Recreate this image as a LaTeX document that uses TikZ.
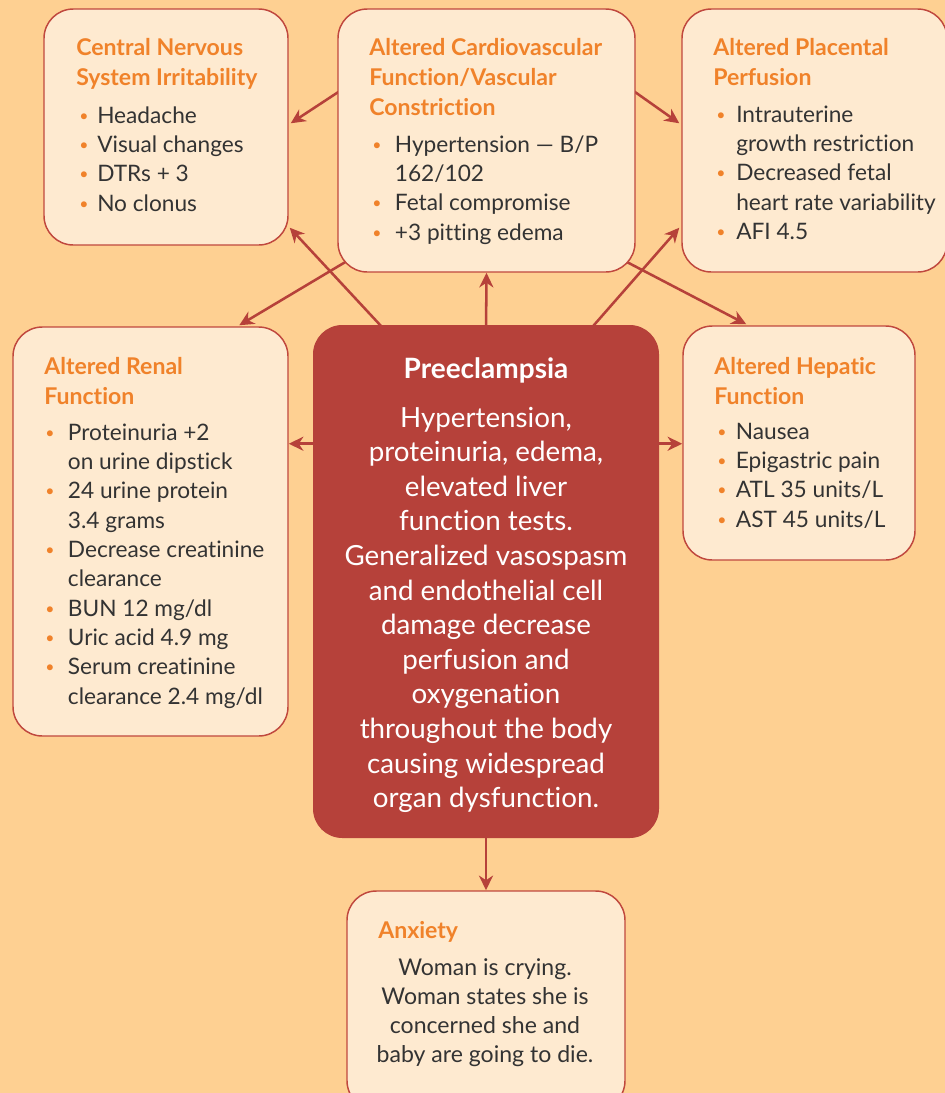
\documentclass[tikz,border=0pt]{standalone}
\usepackage{fontspec}
\setmainfont{Lato}[Ligatures={NoCommon}]
\usepackage{graphicx}
\usetikzlibrary{arrows.meta,fit,backgrounds,calc}
\definecolor{bgc}{HTML}{FED092}
\definecolor{boxf}{HTML}{FEEAD0}
\definecolor{bord}{HTML}{C0483E}
\definecolor{arrc}{HTML}{B6413A}
\definecolor{prec}{HTML}{B6413A}
\definecolor{horange}{HTML}{F0822A}
\definecolor{tgray}{HTML}{333333}
\newlength{\bulw}
\newcommand{\bi}{\makebox[\bulw][l]{\textcolor{horange}{\raisebox{1.5pt}{\scalebox{0.7}{•}}}}}
\newcommand{\ct}{\hspace*{\bulw}}
\begin{document}
\begin{tikzpicture}[x=0.75pt,y=-0.75pt,
  box/.style={draw=bord, line width=1.1pt, fill=boxf, rounded corners=22pt, inner sep=0pt},
  prebox/.style={fill=prec, rounded corners=22pt, inner sep=0pt},
  arr/.style={draw=arrc, line width=1.9pt, -{Stealth[length=11pt,width=10.5pt,inset=3.5pt]}},
  head/.style={anchor=base west, inner sep=0pt, text=horange, font=\bfseries\fontsize{17.3pt}{22.5pt}\selectfont},
  body/.style={anchor=base west, inner sep=0pt, text=tgray, font=\fontsize{17pt}{22pt}\selectfont},
  cbody/.style={anchor=base, inner sep=0pt, text=tgray, font=\fontsize{17.3pt}{21.8pt}\selectfont},
  ptitle/.style={anchor=base, inner sep=0pt, text=white, font=\bfseries\fontsize{21pt}{26pt}\selectfont},
  pbody/.style={anchor=base, inner sep=0pt, text=white, font=\fontsize{20.8pt}{25.95pt}\selectfont}]
\useasboundingbox (0,0) rectangle (945,1093);
\clip (0,0) rectangle (945,1093);

% boxes
\node[box, fit={(44,9) (288,245)}] (cns) {};
\node[box, fit={(338,9) (635,272)}] (cardio) {};
\node[box, fit={(682,9) (947,272)}] (plac) {};
\node[box, fit={(13,327) (288,736)}] (renal) {};
\node[prebox, fit={(313,325) (659,838)}] (pre) {};
\node[box, fit={(683,326) (915,560)}] (hep) {};
\node[box, fit={(347,891) (625,1110)}] (anx) {};

% texts
\node[head] (cnsh) at (76,55) {\parbox[t]{250pt}{Central Nervous\\System Irritability}};
\node[body] (cnsb) at (79,123) {\setlength{\bulw}{13.5pt}\parbox[t]{250pt}{\bi Headache\\\bi Visual changes\\\bi DTRs + 3\\\bi No clonus}};

\node[head] (cardh) at (369,55) {\parbox[t]{250pt}{Altered Cardiovascular\\Function/Vascular\\Constriction}};
\node[body] (cardb) at (372,152) {\setlength{\bulw}{17pt}\parbox[t]{250pt}{\bi Hypertension — B/P\\\ct 162/102\\\bi Fetal compromise\\\bi +3 pitting edema}};

\node[head] (plach) at (713,55) {\parbox[t]{250pt}{Altered Placental\\Perfusion}};
\node[body] (placb) at (716,122) {\setlength{\bulw}{15pt}\parbox[t]{250pt}{\bi Intrauterine\\\ct growth restriction\\\bi Decreased fetal\\\ct heart rate variability\\\bi AFI 4.5}};

\node[head] (renh) at (44,374) {\parbox[t]{250pt}{Altered Renal\\Function}};
\node[body] (renb) at (45,440) {\setlength{\bulw}{17pt}\parbox[t]{250pt}{\bi Proteinuria +2\\\ct on urine dipstick\\\bi 24 urine protein\\\ct 3.4 grams\\\bi Decrease creatinine\\\ct clearance\\\bi BUN 12 mg/dl\\\bi Uric acid 4.9 mg\\\bi Serum creatinine\\\ct clearance 2.4 mg/dl}};

\node[head] (heph) at (714,374) {\parbox[t]{250pt}{Altered Hepatic\\Function}};
\node[body] (hepb) at (717,439) {\setlength{\bulw}{14pt}\parbox[t]{250pt}{\bi Nausea\\\bi Epigastric pain\\\bi ATL 35 units/L\\\bi AST 45 units/L}};

\node[ptitle] (pret) at (486,378) {Preeclampsia};
\node[pbody] (preb) at (486,427) {\parbox[t]{255pt}{\centering Hypertension,\\proteinuria, edema,\\elevated liver\\function tests.\\Generalized vasospasm\\and endothelial cell\\damage decrease\\perfusion and\\oxygenation\\throughout the body\\causing widespread\\organ dysfunction.}};

\node[head] (anxh) at (378,938) {Anxiety};
\node[cbody] (anxb) at (485,975) {\parbox[t]{250pt}{\centering Woman is crying.\\Woman states she is\\concerned she and\\baby are going to die.}};

% connectors (behind boxes)
\begin{pgfonlayer}{background}
\fill[bgc] (0,0) rectangle (945,1093);
\draw[arr] ($(cardio.north west)+(22,70)$) -- ($(cns.north east)+(2,115)$);
\draw[arr] ($(pre.north west)+(82,16)$) -- ($(cns.south east)+(1,-18)$);
\draw[arr] ($(cardio.north east)+(-23,68)$) -- ($(plac.north west)+(-2,115)$);
\draw[arr] ($(pre.north east)+(-79,16)$) -- ($(plac.south west)+(-2,-45)$);
\draw[arr] ($(cardio.south west)+(22,-19)$) -- ($(renal.north west)+(227,-1)$);
\draw[arr] ($(cardio.south east)+(-19,-16)$) -- ($(hep.north west)+(64,-1)$);
\draw[arr] ($(pre.north)+(0,10)$) -- (cardio.south);
\draw[arr] ($(pre.north west)+(10,119)$) coordinate (p8) -- (p8 -| renal.east);
\draw[arr] ($(pre.north east)+(-10,119)$) coordinate (p9) -- (p9 -| hep.west);
\draw[arr] ($(pre.south)+(0,-10)$) -- (anx.north);
\end{pgfonlayer}
\end{tikzpicture}
\end{document}
